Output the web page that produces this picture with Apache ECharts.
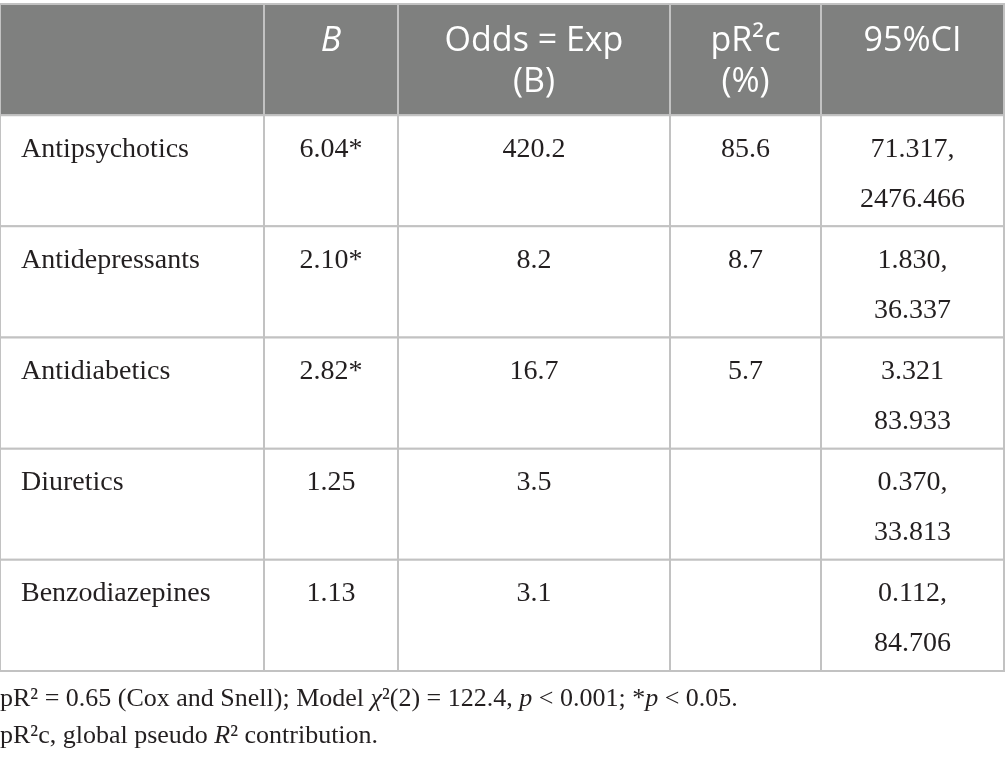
<!DOCTYPE html>
<html>
<head>
<meta charset="utf-8">
<script src="https://cdn.jsdelivr.net/npm/echarts@6/dist/echarts.min.js"></script>
<style>
  html, body { margin: 0; padding: 0; background: #fff; }
  #main { width: 1005px; height: 761px; }
</style>
</head>
<body>
<div id="main"></div>
<script>
// table content
var headers = ['', '{i|B}', 'Odds = Exp\n(B)', 'pR²c\n(%)', '95%CI'];
var drugs = ['Antipsychotics', 'Antidepressants', 'Antidiabetics', 'Diuretics', 'Benzodiazepines'];
var bValues = ['6.04*', '2.10*', '2.82*', '1.25', '1.13'];
var oddsValues = ['420.2', '8.2', '16.7', '3.5', '3.1'];
var pr2cValues = ['85.6', '8.7', '5.7', '', ''];
var ciLow = ['71.317,', '1.830,', '3.321', '0.370,', '0.112,'];
var ciHigh = ['2476.466', '36.337', '83.933', '33.813', '84.706'];
var notes = [
  'pR² = 0.65 (Cox and Snell); Model {i|χ}²(2) = 122.4, {i|p} < 0.001; *{i|p} < 0.05.',
  'pR²c, global pseudo {i|R}² contribution.'
];

// layout: column edges in x-axis units
var colEdges = [0, 264, 398, 670, 821, 1004];
var rowNames = ['header'].concat(drugs);

var cells = [];
headers.forEach(function (t, c) { cells.push({ value: [c, 0], text: t }); });
drugs.forEach(function (d, i) {
  var r = i + 1;
  cells.push({ value: [0, r], text: d });
  cells.push({ value: [1, r], text: bValues[i] });
  cells.push({ value: [2, r], text: oddsValues[i] });
  cells.push({ value: [3, r], text: pr2cValues[i] });
  cells.push({ value: [4, r], text: ciLow[i] + '\n' + ciHigh[i] });
});

var serifFont = '"Liberation Serif", "DejaVu Serif", serif';
var sansFont = '"Open Sans", "DejaVu Sans", sans-serif';

function renderCell(params, api) {
  var c = api.value(0), r = api.value(1);
  var p0 = api.coord([colEdges[c], r]);
  var p1 = api.coord([colEdges[c + 1], r]);
  var h = api.size([0, 1])[1];
  var top = p0[1] - h / 2;
  var isHead = r === 0;
  var text = cells[params.dataIndex].text;
  var left = c === 0 && !isHead;
  var size = isHead ? 34 : 28;
  var lh = isHead ? 41 : 50;
  var color = isHead ? '#fff' : '#231f20';
  var fam = isHead ? sansFont : serifFont;
  return {
    type: 'group',
    children: [{
      type: 'rect',
      shape: { x: p0[0], y: top, width: p1[0] - p0[0], height: h },
      style: { fill: isHead ? '#7f807f' : '#fff', stroke: '#c2c2c2', lineWidth: 2 }
    }, {
      type: 'text',
      style: {
        x: left ? p0[0] + 21 : (p0[0] + p1[0]) / 2,
        y: isHead ? top + 17 : top + 9,
        text: text,
        align: left ? 'left' : 'center',
        verticalAlign: 'top',
        fill: color,
        fontFamily: fam,
        fontSize: size,
        lineHeight: lh,
        rich: {
          i: { fontStyle: 'italic', fontFamily: fam, fontSize: size, fill: color, lineHeight: lh }
        }
      }
    }]
  };
}

var chart = echarts.init(document.getElementById('main'));
chart.setOption({
  animation: false,
  grid: { left: 0, right: 1, top: 4, height: 667 },
  xAxis: { type: 'value', min: 0, max: 1004, show: false },
  yAxis: { type: 'category', data: rowNames, inverse: true, show: false },
  series: [{
    type: 'custom',
    renderItem: renderCell,
    encode: { x: 0, y: 1 },
    data: cells
  }],
  graphic: notes.map(function (t, i) {
    return {
      type: 'text',
      left: 0,
      top: 686 + i * 37,
      style: {
        text: t,
        fill: '#231f20',
        font: '26px ' + serifFont,
        rich: { i: { fontStyle: 'italic', fontSize: 26, fontFamily: serifFont, fill: '#231f20' } }
      }
    };
  })
});
</script>
</body>
</html>
